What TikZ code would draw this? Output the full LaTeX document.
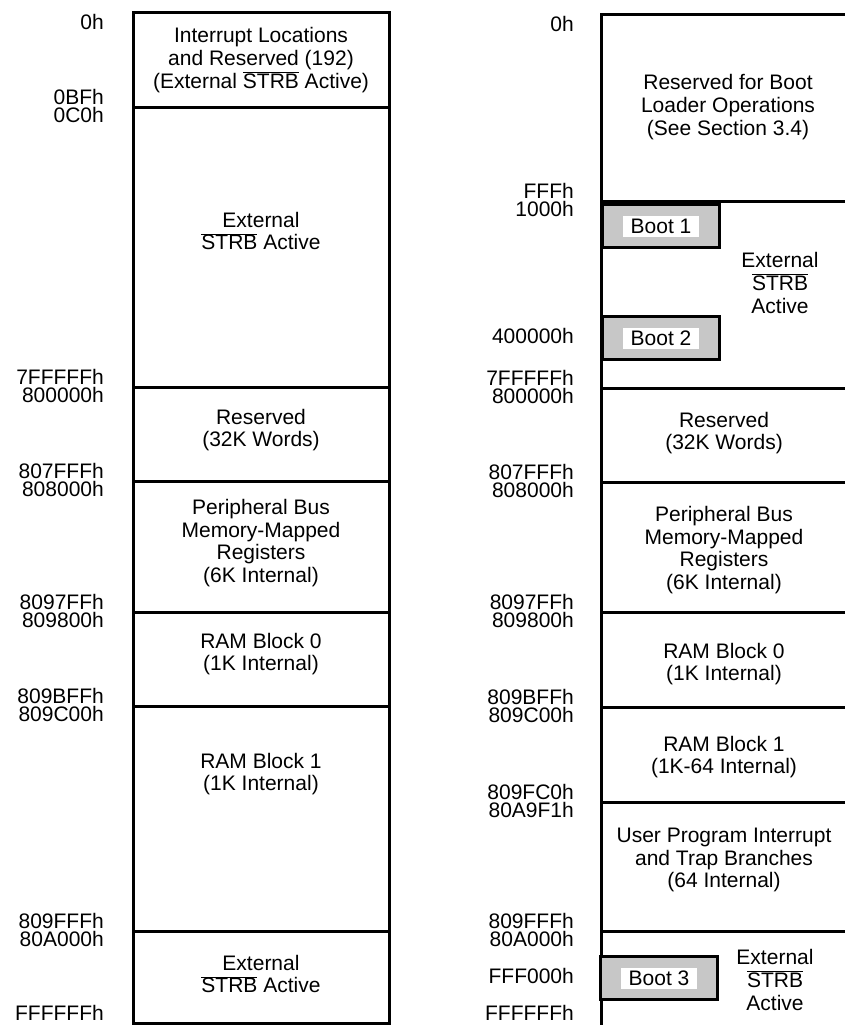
\documentclass[tikz,border=0pt]{standalone}
\usepackage{fontspec}
\setmainfont{Liberation Sans}
\usepackage{tikz}
\newcommand{\nstrb}{$\overline{\mbox{STRB}}$}
\newcommand{\mapfont}{\fontsize{21}{22.6}\selectfont}

\begin{document}
\begin{tikzpicture}[
  x=1pt, y=-1pt,
  font=\mapfont,
  edge/.style={line width=3pt},
  memtext/.style={align=center, inner sep=0pt},
  addr/.style={anchor=east, inner sep=0pt},
  bootbox/.style={draw, line width=3pt, fill=black!22, anchor=north west, minimum width=117pt, minimum height=43pt, inner sep=0pt},
  bootname/.style={fill=white, inner sep=1.5pt, minimum width=76pt, minimum height=21pt}
]
\useasboundingbox (0,0) rectangle (845,1025);

% left map
\draw[edge] (133,13) rectangle (389,1023);
\foreach \yy in {107,387,481,612,706,931}
  \draw[edge] (133,\yy) -- (389,\yy);

\node[memtext] (lint)  at (261,60)  {Interrupt Locations\\and Reserved (192)\\(External \nstrb{} Active)};
\node[memtext] (lext)  at (261,231) {External\\\nstrb{} Active};
\node[memtext] (lres)  at (261,430) {Reserved\\(32K Words)};
\node[memtext] (lper)  at (261,543) {Peripheral Bus\\Memory-Mapped\\Registers\\(6K Internal)};
\node[memtext] (lram0) at (261,654) {RAM Block 0\\(1K Internal)};
\node[memtext] (lram1) at (261,774) {RAM Block 1\\(1K Internal)};
\node[memtext] (lextb) at (261,974) {External\\\nstrb{} Active};

\node[addr] (la0)  at (104,22)   {0h};
\node[addr] (la1)  at (104,97)   {0BFh};
\node[addr] (la2)  at (104,115)  {0C0h};
\node[addr] (la3)  at (104,377)  {7FFFFFh};
\node[addr] (la4)  at (104,395)  {800000h};
\node[addr] (la5)  at (104,471)  {807FFFh};
\node[addr] (la6)  at (104,489)  {808000h};
\node[addr] (la7)  at (104,602)  {8097FFh};
\node[addr] (la8)  at (104,620)  {809800h};
\node[addr] (la9)  at (104,696)  {809BFFh};
\node[addr] (la10) at (104,714)  {809C00h};
\node[addr] (la11) at (104,921)  {809FFFh};
\node[addr] (la12) at (104,939)  {80A000h};
\node[addr] (la13) at (104,1013) {FFFFFFh};

% right map
\draw[edge] (850,15) -- (601,15) -- (601,1030);
\foreach \yy in {201,388,482,612,707,802,931}
  \draw[edge] (601,\yy) -- (850,\yy);

\node[bootbox] (boot1) at (601,203) {};
\node[bootname] (boot1txt) at (boot1.center) {Boot 1};
\node[bootbox] (boot2) at (601,315) {};
\node[bootname] (boot2txt) at (boot2.center) {Boot 2};
\node[bootbox] (boot3) at (599,955) {};
\node[bootname] (boot3txt) at (boot3.center) {Boot 3};

\node[memtext] (rboot) at (728,107) {Reserved for Boot\\Loader Operations\\(See Section 3.4)};
\node[memtext] (rext)  at (780,283) {External\\\nstrb\\Active};
\node[memtext] (rres)  at (724,433) {Reserved\\(32K Words)};
\node[memtext] (rper)  at (724,550) {Peripheral Bus\\Memory-Mapped\\Registers\\(6K Internal)};
\node[memtext] (rram0) at (724,664) {RAM Block 0\\(1K Internal)};
\node[memtext] (rram1) at (724,757) {RAM Block 1\\(1K-64 Internal)};
\node[memtext] (ruser) at (724,860) {User Program Interrupt\\and Trap Branches\\(64 Internal)};
\node[memtext] (rextb) at (775,980) {External\\\nstrb\\Active};

\node[addr] (ra0)  at (574,24)   {0h};
\node[addr] (ra1)  at (574,191)  {FFFh};
\node[addr] (ra2)  at (574,209)  {1000h};
\node[addr] (ra3)  at (574,336)  {400000h};
\node[addr] (ra4)  at (574,378)  {7FFFFFh};
\node[addr] (ra5)  at (574,396)  {800000h};
\node[addr] (ra6)  at (574,472)  {807FFFh};
\node[addr] (ra7)  at (574,490)  {808000h};
\node[addr] (ra8)  at (574,602)  {8097FFh};
\node[addr] (ra9)  at (574,620)  {809800h};
\node[addr] (ra10) at (574,697)  {809BFFh};
\node[addr] (ra11) at (574,715)  {809C00h};
\node[addr] (ra12) at (574,792)  {809FC0h};
\node[addr] (ra13) at (574,810)  {80A9F1h};
\node[addr] (ra14) at (574,921)  {809FFFh};
\node[addr] (ra15) at (574,939)  {80A000h};
\node[addr] (ra16) at (574,976)  {FFF000h};
\node[addr] (ra17) at (574,1013) {FFFFFFh};
\end{tikzpicture}
\end{document}
